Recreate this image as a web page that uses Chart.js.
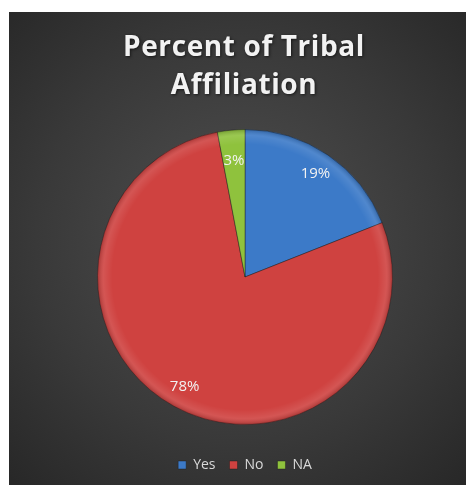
<!DOCTYPE html>
<html>
<head>
<meta charset="utf-8">
<script src="https://cdn.jsdelivr.net/npm/chart.js@4/dist/chart.umd.min.js"></script>
<style>
  html, body { margin: 0; padding: 0; background: #ffffff; overflow: hidden; }
  #wrap { width: 466px; height: 485px; position: relative; }
</style>
</head>
<body>
<div id="wrap"><canvas id="c" width="466" height="485"></canvas></div>
<script>
const categories = ['Yes', 'No', 'NA'];
const percents = [19, 78, 3];
const sliceColors = ['#3c7ac8', '#cf4240', '#8fc23d'];
const titleLines = ['Percent of Tribal', 'Affiliation'];

// Dark panel with a soft radial glow behind the chart
const panelBackground = {
  id: 'panelBackground',
  beforeDraw(chart) {
    const ctx = chart.ctx;
    const w = chart.width, h = chart.height;
    ctx.save();
    ctx.fillStyle = '#ffffff';
    ctx.fillRect(0, 0, w, h);
    const g = ctx.createRadialGradient(238, 240, 10, 238, 240, 330);
    g.addColorStop(0, '#4f4f4f');
    g.addColorStop(0.6, '#393939');
    g.addColorStop(1, '#282828');
    ctx.fillStyle = g;
    ctx.fillRect(9, 12, w - 9, h - 12);
    ctx.restore();
  }
};

// Two-line heading with a light shadow and wide tracking
const heading = {
  id: 'heading',
  afterDraw(chart) {
    const ctx = chart.ctx;
    ctx.save();
    ctx.font = 'bold 28px "Open Sans", sans-serif';
    ctx.letterSpacing = '0.6px';
    ctx.textAlign = 'center';
    ctx.textBaseline = 'middle';
    ctx.fillStyle = '#f2f2f2';
    ctx.shadowColor = 'rgba(0,0,0,0.6)';
    ctx.shadowBlur = 3;
    ctx.shadowOffsetX = 1;
    ctx.shadowOffsetY = 1;
    const cx = 244;
    ctx.fillText(titleLines[0], cx, 48);
    ctx.fillText(titleLines[1], cx, 86);
    ctx.restore();
  }
};

// Soft rim shading on the pie
const pieBevel = {
  id: 'pieBevel',
  afterDatasetsDraw(chart) {
    const arc = chart.getDatasetMeta(0).data[0];
    if (!arc) return;
    const { x, y, outerRadius } = arc.getProps(['x', 'y', 'outerRadius'], true);
    const ctx = chart.ctx;
    ctx.save();
    ctx.beginPath();
    ctx.arc(x, y, outerRadius, 0, Math.PI * 2);
    ctx.clip();
    const g = ctx.createRadialGradient(x, y, outerRadius * 0.9, x, y, outerRadius);
    g.addColorStop(0, 'rgba(255,255,255,0)');
    g.addColorStop(0.6, 'rgba(255,255,255,0.10)');
    g.addColorStop(1, 'rgba(0,0,0,0.18)');
    ctx.fillStyle = g;
    ctx.fillRect(x - outerRadius, y - outerRadius, outerRadius * 2, outerRadius * 2);
    ctx.restore();
  }
};

// Percentage labels inside each slice
const sliceLabels = {
  id: 'sliceLabels',
  afterDatasetsDraw(chart) {
    const ctx = chart.ctx;
    const meta = chart.getDatasetMeta(0);
    const ds = chart.data.datasets[0];
    ctx.save();
    ctx.font = '15px "Open Sans", sans-serif';
    ctx.fillStyle = '#f2f2f2';
    ctx.textAlign = 'center';
    ctx.textBaseline = 'middle';
    meta.data.forEach((arc, i) => {
      const p = arc.getProps(['x', 'y', 'startAngle', 'endAngle', 'outerRadius'], true);
      const mid = (p.startAngle + p.endAngle) / 2;
      const f = ds.data[i] < 5 ? 0.79 : 0.85;
      const r = p.outerRadius * f;
      ctx.fillText(ds.data[i] + '%', p.x + Math.cos(mid) * r, p.y + Math.sin(mid) * r);
    });
    ctx.restore();
  }
};

new Chart(document.getElementById('c'), {
  type: 'pie',
  data: {
    labels: categories,
    datasets: [{
      data: percents,
      backgroundColor: sliceColors,
      borderColor: 'rgba(30,30,30,0.45)',
      borderWidth: 1
    }]
  },
  options: {
    responsive: false,
    animation: false,
    layout: { padding: { left: 97, right: 73, top: 110, bottom: 3 } },
    plugins: {
      tooltip: { enabled: false },
      title: { display: false },
      legend: {
        position: 'bottom',
        labels: {
          color: '#d9d9d9',
          font: { family: '"Open Sans", sans-serif', size: 14 },
          boxWidth: 8,
          boxHeight: 8,
          padding: 14
        }
      }
    }
  },
  plugins: [panelBackground, pieBevel, sliceLabels, heading]
});
</script>
</body>
</html>
